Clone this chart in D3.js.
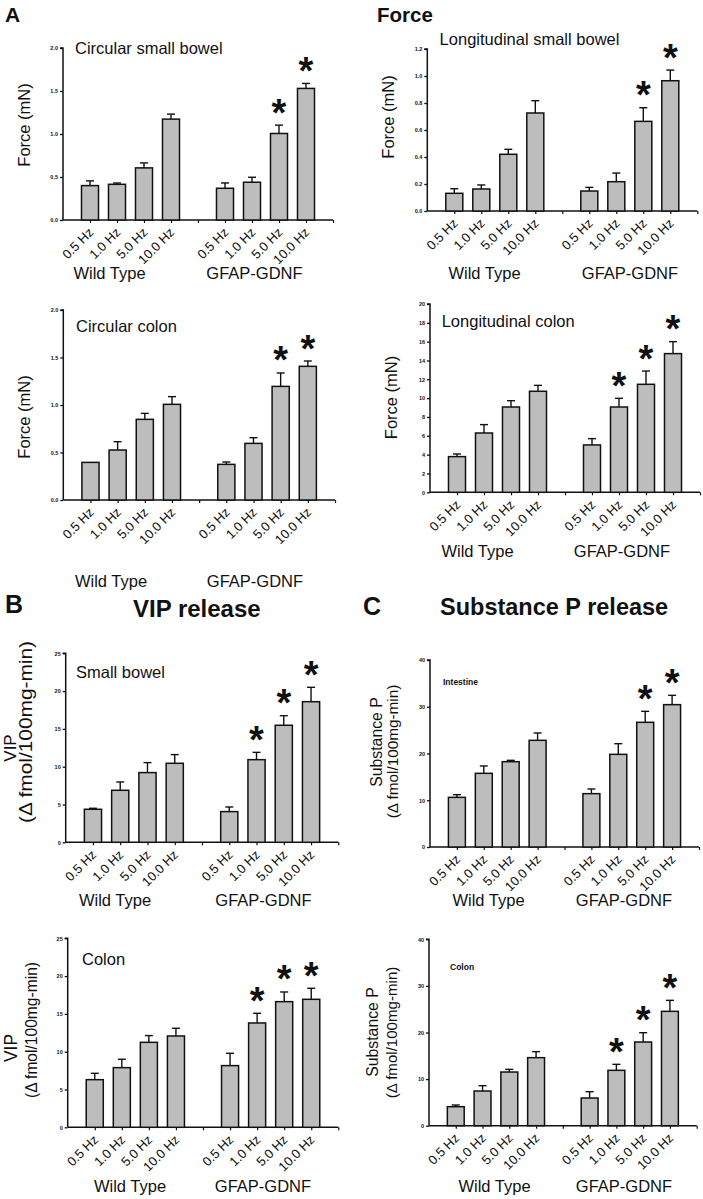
<!DOCTYPE html>
<html>
<head>
<meta charset="utf-8">
<script src="https://cdn.jsdelivr.net/npm/d3@7"></script>
<style>
  html, body { margin: 0; padding: 0; background: #fff; }
  svg { display: block; }
  text { font-family: "Liberation Sans", Arial, Helvetica, sans-serif; fill: #111; }
</style>
</head>
<body>
<svg id="chart" width="703" height="1199"></svg>
<script>
// ---------------- DATA ----------------
const categories = ["0.5 Hz", "1.0 Hz", "5.0 Hz", "10.0 Hz"];
const groups = ["Wild Type", "GFAP-GDNF"];

// Circular small bowel (mN)
const circSB_wt = [0.40, 0.415, 0.606, 1.173];
const circSB_wtErr = [0.055, 0.015, 0.058, 0.058];
const circSB_gd = [0.369, 0.439, 1.006, 1.530];
const circSB_gdErr = [0.062, 0.058, 0.097, 0.058];
const circSB_sig = [false, false, true, true];
const circSB_ticks = [0, 0.5, 1.0, 1.5, 2.0];
const circSB_tickLabels = ["0.0", "0.5", "1.0", "1.5", "2.0"];

// Longitudinal small bowel (mN)
const longSB_wt = [0.131, 0.163, 0.42, 0.726];
const longSB_wtErr = [0.034, 0.030, 0.037, 0.091];
const longSB_gd = [0.148, 0.217, 0.664, 0.965];
const longSB_gdErr = [0.027, 0.064, 0.101, 0.079];
const longSB_sig = [false, false, true, true];
const longSB_ticks = [0, 0.2, 0.4, 0.6, 0.8, 1.0, 1.2];
const longSB_tickLabels = ["0.0", "0.2", "0.4", "0.6", "0.8", "1.0", "1.2"];

// Circular colon (mN)
const circC_wt = [0.396, 0.526, 0.849, 1.007];
const circC_wtErr = [0.0, 0.088, 0.063, 0.081];
const circC_gd = [0.375, 0.596, 1.196, 1.407];
const circC_gdErr = [0.025, 0.060, 0.141, 0.056];
const circC_sig = [false, false, true, true];
const circC_ticks = [0, 0.5, 1.0, 1.5, 2.0];
const circC_tickLabels = ["0.0", "0.5", "1.0", "1.5", "2.0"];

// Longitudinal colon (mN)
const longC_wt = [3.79, 6.30, 9.06, 10.73];
const longC_wtErr = [0.28, 0.89, 0.67, 0.63];
const longC_gd = [5.03, 9.06, 11.47, 14.73];
const longC_gdErr = [0.67, 0.92, 1.41, 1.27];
const longC_sig = [false, true, true, true];
const longC_ticks = [0, 2, 4, 6, 8, 10, 12, 14, 16, 18, 20];
const longC_tickLabels = ["0", "2", "4", "6", "8", "10", "12", "14", "16", "18", "20"];

// VIP small bowel
const vipSB_wt = [4.37, 6.88, 9.22, 10.45];
const vipSB_wtErr = [0.13, 1.10, 1.32, 1.15];
const vipSB_gd = [4.06, 10.93, 15.48, 18.6];
const vipSB_gdErr = [0.61, 0.97, 1.27, 1.90];
const vipSB_sig = [false, true, true, true];
const vip_ticks = [0, 5, 10, 15, 20, 25];
const vip_tickLabels = ["0", "5", "10", "15", "20", "25"];

// Substance P intestine
const spI_wt = [10.62, 15.76, 18.25, 22.82];
const spI_wtErr = [0.57, 1.57, 0.29, 1.57];
const spI_gd = [11.41, 19.82, 26.67, 30.45];
const spI_gdErr = [1.00, 2.28, 2.35, 1.99];
const spI_sig = [false, false, true, true];
const sp_ticks = [0, 10, 20, 30, 40];
const sp_tickLabels = ["0", "10", "20", "30", "40"];

// VIP colon
const vipC_wt = [6.30, 7.89, 11.24, 12.08];
const vipC_wtErr = [0.84, 1.11, 0.89, 1.02];
const vipC_gd = [8.16, 13.8, 16.62, 16.93];
const vipC_gdErr = [1.63, 1.28, 1.28, 1.46];
const vipC_sig = [false, true, true, true];

// Substance P colon
const spC_wt = [4.08, 7.44, 11.52, 14.6];
const spC_wtErr = [0.36, 1.15, 0.57, 1.29];
const spC_gd = [5.94, 11.88, 17.96, 24.54];
const spC_gdErr = [1.36, 1.29, 2.00, 2.36];
const spC_sig = [false, true, true, true];

// ---------------- LAYOUT ----------------
const FONT = '"Liberation Sans", Arial, Helvetica, sans-serif';
const panels = [
  { wt: circSB_wt, wtE: circSB_wtErr, gd: circSB_gd, gdE: circSB_gdErr, sig: circSB_sig,
    ticks: circSB_ticks, tl: circSB_tickLabels, max: 2.0,
    x0: 63, x1: 333, yT: 48, yB: 220,
    title: "Circular small bowel", tx: 75, ty: 54, tfs: 16.5, tbold: false, tanchor: "start",
    ylab: ["Force (mN)"], ylx: [30], yly: [125], ylfs: [16.5], ylen: [null],
    gy: 279, gwx: 109.5, ggx: 254.5 },
  { wt: longSB_wt, wtE: longSB_wtErr, gd: longSB_gd, gdE: longSB_gdErr, sig: longSB_sig,
    ticks: longSB_ticks, tl: longSB_tickLabels, max: 1.2,
    x0: 427.3, x1: 697.3, yT: 49, yB: 211,
    title: "Longitudinal small bowel", tx: 529.5, ty: 45, tfs: 16.5, tbold: false, tanchor: "middle",
    ylab: ["Force (mN)"], ylx: [394], yly: [117], ylfs: [16.5], ylen: [null],
    gy: 279, gwx: 484.5, ggx: 630 },
  { wt: circC_wt, wtE: circC_wtErr, gd: circC_gd, gdE: circC_gdErr, sig: circC_sig,
    ticks: circC_ticks, tl: circC_tickLabels, max: 2.0,
    x0: 63.3, x1: 335, yT: 310, yB: 500,
    title: "Circular colon", tx: 76, ty: 332, tfs: 16.5, tbold: false, tanchor: "start",
    ylab: ["Force (mN)"], ylx: [30], yly: [417], ylfs: [16.5], ylen: [null],
    gy: 587, gwx: 111, ggx: 255 },
  { wt: longC_wt, wtE: longC_wtErr, gd: longC_gd, gdE: longC_gdErr, sig: longC_sig,
    ticks: longC_ticks, tl: longC_tickLabels, max: 20,
    x0: 430, x1: 700, yT: 304, yB: 492.3,
    title: "Longitudinal colon", tx: 441.7, ty: 327, tfs: 16.5, tbold: false, tanchor: "start",
    ylab: ["Force (mN)"], ylx: [397], yly: [397.5], ylfs: [16.5], ylen: [null],
    gy: 557, gwx: 477.5, ggx: 622 },
  { wt: vipSB_wt, wtE: vipSB_wtErr, gd: vipSB_gd, gdE: vipSB_gdErr, sig: vipSB_sig,
    ticks: vip_ticks, tl: vip_tickLabels, max: 25,
    x0: 65.7, x1: 338.3, yT: 653.3, yB: 842.3,
    title: "Small bowel", tx: 76, ty: 677.5, tfs: 16.5, tbold: false, tanchor: "start",
    ylab: ["VIP", "(\u0394 fmol/100mg-min)"], ylx: [16, 31.5], yly: [748, 732], ylfs: [17, 17.5], ylen: [null, 182],
    gy: 906, gwx: 115, ggx: 263.5 },
  { wt: spI_wt, wtE: spI_wtErr, gd: spI_gd, gdE: spI_gdErr, sig: spI_sig,
    ticks: sp_ticks, tl: sp_tickLabels, max: 40,
    x0: 430, x1: 699, yT: 660, yB: 847,
    title: "Intestine", tx: 443, ty: 685, tfs: 8.5, tbold: true, tanchor: "start",
    ylab: ["Substance P", "(\u0394 fmol/100mg-min)"], ylx: [382, 398], yly: [742, 751.5], ylfs: [15.8, 15.3], ylen: [null, null],
    gy: 906, gwx: 488.5, ggx: 624 },
  { wt: vipC_wt, wtE: vipC_wtErr, gd: vipC_gd, gdE: vipC_gdErr, sig: vipC_sig,
    ticks: vip_ticks, tl: vip_tickLabels, max: 25,
    x0: 67.7, x1: 338.3, yT: 938.3, yB: 1127.3,
    title: "Colon", tx: 82, ty: 965, tfs: 16.5, tbold: false, tanchor: "start",
    ylab: ["VIP", "(\u0394 fmol/100mg-min)"], ylx: [17, 37], yly: [1048, 1030], ylfs: [17.5, 15.6], ylen: [null, null],
    gy: 1192, gwx: 130, ggx: 263 },
  { wt: spC_wt, wtE: spC_wtErr, gd: spC_gd, gdE: spC_gdErr, sig: spC_sig,
    ticks: sp_ticks, tl: sp_tickLabels, max: 40,
    x0: 429, x1: 696.7, yT: 939.3, yB: 1125.7,
    title: "Colon", tx: 450, ty: 970, tfs: 8.5, tbold: true, tanchor: "start",
    ylab: ["Substance P", "(\u0394 fmol/100mg-min)"], ylx: [378, 397], yly: [1032, 1032.5], ylfs: [15.8, 15.1], ylen: [null, null],
    gy: 1192, gwx: 494.5, ggx: 624 }
];

const svg = d3.select("#chart");

// Header labels
const headers = [
  { t: "A", x: 5, y: 22, fs: 21 },
  { t: "Force", x: 377, y: 22, fs: 20.5 },
  { t: "B", x: 5, y: 613, fs: 25 },
  { t: "VIP release", x: 133, y: 617, fs: 24 },
  { t: "C", x: 363, y: 615, fs: 25 },
  { t: "Substance P release", x: 440, y: 615, fs: 23.5 }
];
svg.selectAll("text.hdr").data(headers).enter().append("text")
  .attr("class", "hdr")
  .attr("x", d => d.x).attr("y", d => d.y)
  .style("font-size", d => d.fs + "px").style("font-weight", "bold")
  .text(d => d.t);

panels.forEach(p => {
  const g = svg.append("g");
  const x = d3.scaleLinear().domain([0, 10]).range([p.x0, p.x1]);
  const y = d3.scaleLinear().domain([0, p.max]).range([p.yB, p.yT]);
  const slot = i => (i < 4 ? i + 1 : i + 2);
  const bw = (x(1) - x(0)) * 0.63;

  const bars = [];
  categories.forEach((c, i) => bars.push({ cat: c, v: p.wt[i], e: p.wtE[i], s: false, k: i }));
  categories.forEach((c, i) => bars.push({ cat: c, v: p.gd[i], e: p.gdE[i], s: p.sig[i], k: i + 4 }));

  // y axis
  const yAxis = d3.axisLeft(y).tickValues(p.ticks).tickSize(3).tickPadding(2)
    .tickFormat((d, i) => p.tl[i]);
  const ya = g.append("g").attr("transform", `translate(${p.x0},0)`).call(yAxis);
  ya.select(".domain").attr("stroke", "#111").attr("stroke-width", 1.5).attr("d", `M-3,${p.yT}H0V${p.yB}`);
  ya.selectAll(".tick line").attr("stroke", "#111").attr("stroke-width", 1.3);
  ya.selectAll(".tick text").style("font-size", "5.5px").style("font-weight", "bold")
    .style("font-family", FONT).attr("fill", "#222");

  // x axis line + ticks
  const xa = d3.axisBottom(x).tickValues([1, 2, 3, 4, 5, 6, 7, 8, 9, 10]).tickSize(3).tickFormat("");
  const xg = g.append("g").attr("transform", `translate(0,${p.yB})`).call(xa);
  xg.select(".domain").attr("stroke", "#111").attr("stroke-width", 1.5).attr("d", `M${p.x0},0H${p.x1}`);
  xg.selectAll(".tick line").attr("stroke", "#111").attr("stroke-width", 1.2);

  // error bars
  const eb = g.selectAll("g.err").data(bars.filter(d => d.e > 0)).enter().append("g");
  eb.append("line")
    .attr("x1", d => x(slot(d.k))).attr("x2", d => x(slot(d.k)))
    .attr("y1", d => y(d.v)).attr("y2", d => y(d.v + d.e))
    .attr("stroke", "#111").attr("stroke-width", 1.4);
  eb.append("line")
    .attr("x1", d => x(slot(d.k)) - 4).attr("x2", d => x(slot(d.k)) + 4)
    .attr("y1", d => y(d.v + d.e)).attr("y2", d => y(d.v + d.e))
    .attr("stroke", "#111").attr("stroke-width", 1.4);

  // bars
  g.selectAll("rect.bar").data(bars).enter().append("rect")
    .attr("x", d => x(slot(d.k)) - bw / 2)
    .attr("width", bw)
    .attr("y", d => y(d.v))
    .attr("height", d => y(0) - y(d.v))
    .attr("fill", "#bdbdbd").attr("stroke", "#111").attr("stroke-width", 1.5);

  // asterisks
  g.selectAll("text.star").data(bars.filter(d => d.s)).enter().append("text")
    .attr("x", d => x(slot(d.k)))
    .attr("y", d => y(d.v + d.e) + 0.5)
    .attr("text-anchor", "middle")
    .style("font-size", "38px").style("font-weight", "bold")
    .text("*");

  // x tick labels
  g.selectAll("text.xl").data(bars).enter().append("text")
    .attr("transform", d => `translate(${x(slot(d.k)) + 1},${p.yB + 10}) rotate(-45)`)
    .attr("text-anchor", "end").attr("dy", "0.35em")
    .style("font-size", "13px")
    .text(d => d.cat);

  // group labels
  g.append("text").attr("x", p.gwx).attr("y", p.gy).attr("text-anchor", "middle")
    .style("font-size", "16.5px").text(groups[0]);
  g.append("text").attr("x", p.ggx).attr("y", p.gy).attr("text-anchor", "middle")
    .style("font-size", "16.5px").text(groups[1]);

  // panel title
  g.append("text").attr("x", p.tx).attr("y", p.ty).attr("text-anchor", p.tanchor)
    .style("font-size", p.tfs + "px").style("font-weight", p.tbold ? "bold" : "normal")
    .text(p.title);

  // y labels
  p.ylab.forEach((t, i) => {
    const tt = g.append("text")
      .attr("transform", `translate(${p.ylx[i]},${p.yly[i]}) rotate(-90)`)
      .attr("text-anchor", "middle")
      .style("font-size", p.ylfs[i] + "px")
      .text(t);
    if (p.ylen[i]) tt.attr("textLength", p.ylen[i]).attr("lengthAdjust", "spacingAndGlyphs");
  });
});
</script>
</body>
</html>
